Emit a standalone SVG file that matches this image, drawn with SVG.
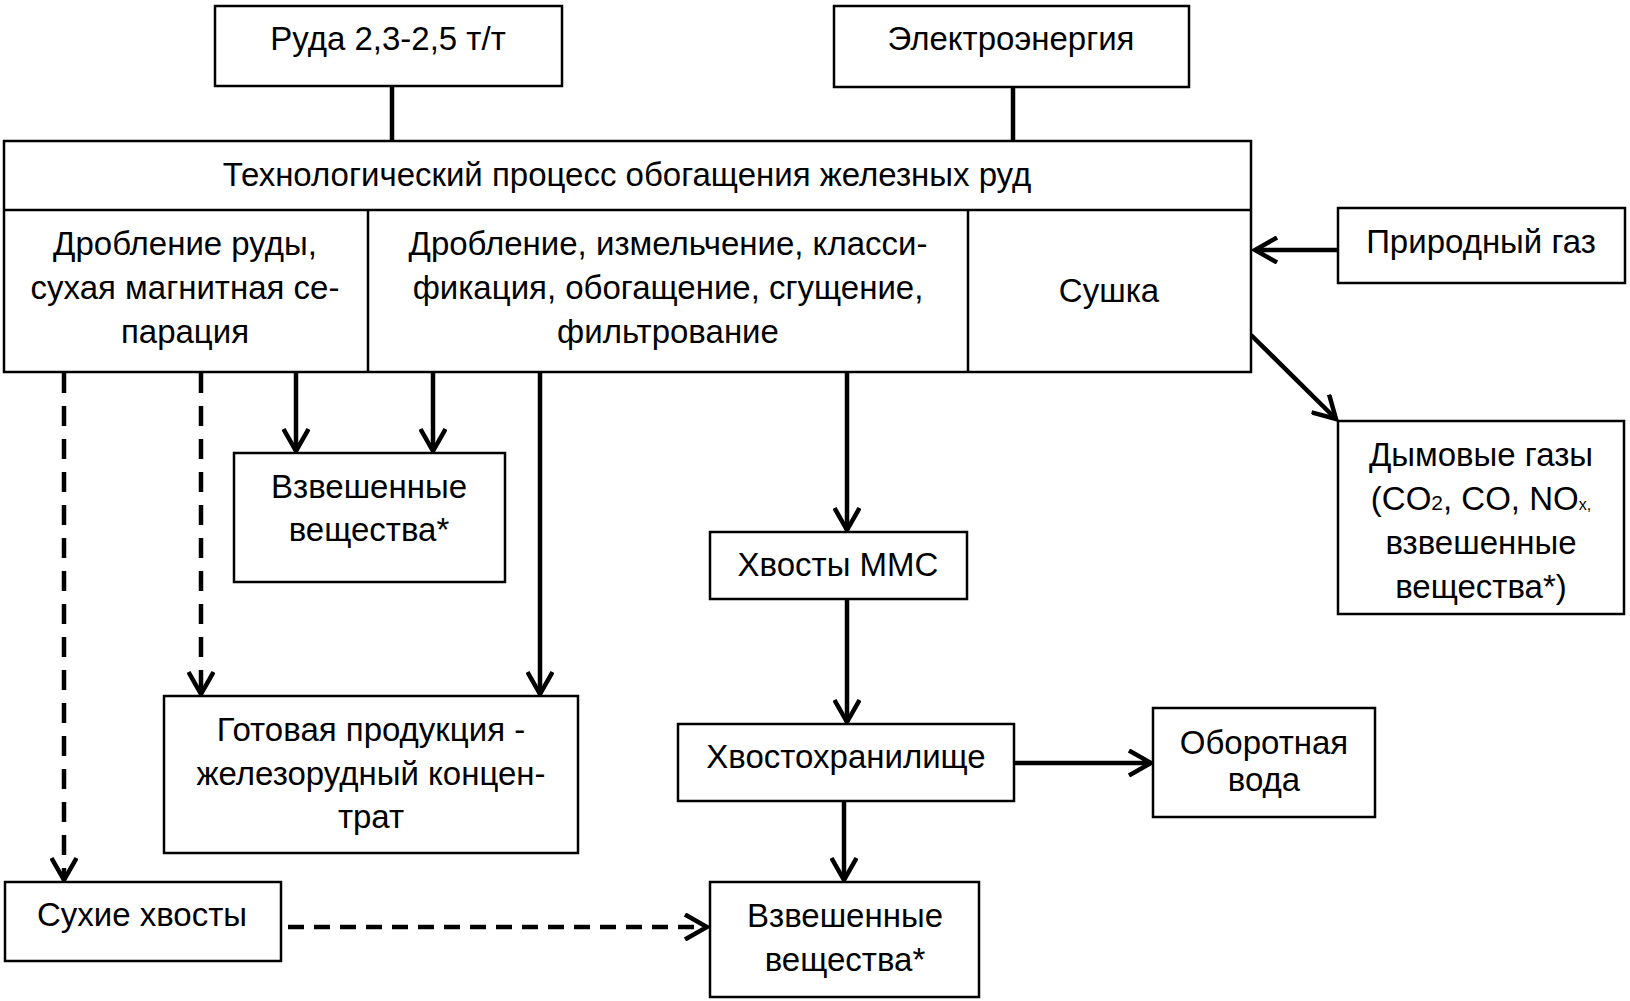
<svg xmlns="http://www.w3.org/2000/svg" width="1630" height="1001" viewBox="0 0 1630 1001">
<style>
.box{fill:#fff;stroke:#000;stroke-width:2.5}
.t{font-family:"Liberation Sans",Arial,sans-serif;font-size:33px;fill:#000;text-anchor:middle}
.c{fill:none;stroke:#000;stroke-width:4.5}
.dv{stroke-dasharray:20 13}
.dh{stroke-dasharray:16 10}
</style>
<defs>
<marker id="arr" viewBox="0 0 28 28" markerWidth="28" markerHeight="28" refX="24" refY="14" orient="auto" markerUnits="userSpaceOnUse">
<path d="M2,1.5 L24,14 L2,26.5" fill="none" stroke="#000" stroke-width="4.5"/>
</marker>
</defs>
<rect width="1630" height="1001" fill="#fff"/>
<g id="connectors">
<line class="c" x1="392" y1="86" x2="392" y2="140"/>
<line class="c" x1="1013" y1="87" x2="1013" y2="140"/>
<line class="c" x1="1338" y1="250" x2="1255" y2="250" marker-end="url(#arr)"/>
<line class="c" x1="1251" y1="335" x2="1336" y2="419" marker-end="url(#arr)"/>
<line class="c" x1="296" y1="373" x2="296" y2="451" marker-end="url(#arr)"/>
<line class="c" x1="433" y1="373" x2="433" y2="451" marker-end="url(#arr)"/>
<line class="c dv" x1="64" y1="373" x2="64" y2="880" marker-end="url(#arr)"/>
<line class="c dv" x1="201" y1="373" x2="201" y2="694" marker-end="url(#arr)"/>
<line class="c" x1="540" y1="373" x2="540" y2="694" marker-end="url(#arr)"/>
<line class="c" x1="847" y1="373" x2="847" y2="530" marker-end="url(#arr)"/>
<line class="c" x1="847" y1="600" x2="847" y2="722" marker-end="url(#arr)"/>
<line class="c" x1="1015" y1="763" x2="1151" y2="763" marker-end="url(#arr)"/>
<line class="c" x1="844" y1="802" x2="844" y2="880" marker-end="url(#arr)"/>
<line class="c dh" x1="288" y1="927" x2="707" y2="927" marker-end="url(#arr)"/>
</g>
<g id="ruda">
<rect class="box" x="215" y="6" width="347" height="80"/>
<text class="t" x="388" y="50">Руда 2,3-2,5 т/т</text>
</g>
<g id="electro">
<rect class="box" x="834" y="6" width="355" height="81"/>
<text class="t" x="1011" y="50">Электроэнергия</text>
</g>
<g id="process">
<rect class="box" x="4" y="141" width="1247" height="231"/>
<line stroke="#000" stroke-width="2.5" x1="4" y1="210" x2="1251" y2="210"/>
<line stroke="#000" stroke-width="2.5" x1="368" y1="210" x2="368" y2="372"/>
<line stroke="#000" stroke-width="2.5" x1="968" y1="210" x2="968" y2="372"/>
<text class="t" x="627" y="186">Технологический процесс обогащения железных руд</text>
<text class="t" x="185" y="255">Дробление руды,</text>
<text class="t" x="185" y="299">сухая магнитная се-</text>
<text class="t" x="185" y="343">парация</text>
<text class="t" x="668" y="255">Дробление, измельчение, класси-</text>
<text class="t" x="668" y="299">фикация, обогащение, сгущение,</text>
<text class="t" x="668" y="343">фильтрование</text>
<text class="t" x="1109" y="302">Сушка</text>
</g>
<g id="gas">
<rect class="box" x="1338" y="208" width="287" height="75"/>
<text class="t" x="1481" y="253">Природный газ</text>
</g>
<g id="smoke">
<rect class="box" x="1338" y="421" width="286" height="193"/>
<text class="t" x="1481" y="466">Дымовые газы</text>
<text class="t" x="1481" y="510">(CO<tspan font-size="21">2</tspan>, CO, NO<tspan font-size="16">x,</tspan></text>
<text class="t" x="1481" y="554">взвешенные</text>
<text class="t" x="1481" y="598">вещества*)</text>
</g>
<g id="susp1">
<rect class="box" x="234" y="453" width="271" height="129"/>
<text class="t" x="369" y="498">Взвешенные</text>
<text class="t" x="369" y="541">вещества*</text>
</g>
<g id="product">
<rect class="box" x="164" y="696" width="414" height="157"/>
<text class="t" x="371" y="741">Готовая продукция -</text>
<text class="t" x="371" y="785">железорудный концен-</text>
<text class="t" x="371" y="828">трат</text>
</g>
<g id="tailsmms">
<rect class="box" x="710" y="532" width="257" height="67"/>
<text class="t" x="838" y="576">Хвосты ММС</text>
</g>
<g id="tailstorage">
<rect class="box" x="678" y="724" width="336" height="77"/>
<text class="t" x="846" y="768">Хвостохранилище</text>
</g>
<g id="water">
<rect class="box" x="1153" y="708" width="222" height="109"/>
<text class="t" x="1264" y="754">Оборотная</text>
<text class="t" x="1264" y="791">вода</text>
</g>
<g id="susp2">
<rect class="box" x="710" y="882" width="269" height="115"/>
<text class="t" x="845" y="927">Взвешенные</text>
<text class="t" x="845" y="971">вещества*</text>
</g>
<g id="drytails">
<rect class="box" x="5" y="882" width="276" height="79"/>
<text class="t" x="142" y="926">Сухие хвосты</text>
</g>
</svg>
